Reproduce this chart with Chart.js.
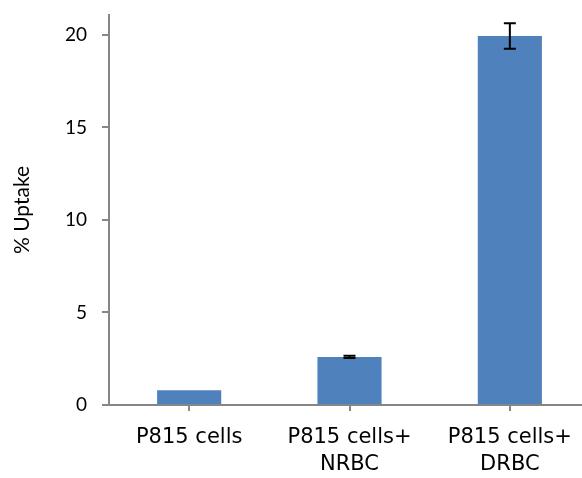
<!DOCTYPE html>
<html>
<head>
<meta charset="utf-8">
<script src="https://cdn.jsdelivr.net/npm/chart.js@4.4.0/dist/chart.umd.min.js"></script>
<style>
html,body{margin:0;padding:0;background:#fff;}
#wrap{width:582px;height:478px;position:relative;}
</style>
</head>
<body>
<div id="wrap"><canvas id="c" width="582" height="478"></canvas></div>
<script>
const categories = [["P815 cells"], ["P815 cells+", "NRBC"], ["P815 cells+", "DRBC"]];
const uptake = [0.8, 2.6, 19.95];
const uptakeError = [0, 0.06, 0.69];
const yTicks = [0, 5, 10, 15, 20];
const yTitle = "% Uptake";

const errorBars = {
  id: 'errorBars',
  afterDatasetsDraw(chart) {
    const ctx = chart.ctx, xs = chart.scales.x, ys = chart.scales.y;
    ctx.save();
    ctx.strokeStyle = '#000';
    ctx.lineWidth = 2;
    uptake.forEach((v, i) => {
      const e = uptakeError[i];
      if (!e) return;
      const x = xs.getPixelForValue(i);
      const yt = ys.getPixelForValue(v + e);
      const yb = ys.getPixelForValue(v - e);
      const hw = 6;
      ctx.beginPath();
      ctx.moveTo(x, yt); ctx.lineTo(x, yb);
      ctx.moveTo(x - hw, yt); ctx.lineTo(x + hw, yt);
      ctx.moveTo(x - hw, yb); ctx.lineTo(x + hw, yb);
      ctx.stroke();
    });
    ctx.restore();
  }
};

new Chart(document.getElementById('c'), {
  type: 'bar',
  data: {
    datasets: [{
      data: uptake.map((v, i) => ({x: i, y: v})),
      backgroundColor: '#4F81BD',
      borderWidth: 0,
      barPercentage: 0.4,
      categoryPercentage: 1
    }]
  },
  options: {
    responsive: false,
    animation: false,
    devicePixelRatio: 1,
    layout: {padding: {top: 15, right: 0, bottom: 0, left: 0}},
    plugins: {legend: {display: false}, tooltip: {enabled: false}},
    scales: {
      x: {
        type: 'linear',
        offset: false,
        min: -0.5,
        max: 2.45,
        afterBuildTicks(s) { s.ticks = categories.map((c, i) => ({value: i})); },
        afterFit(s) { s.height = 73; s.paddingLeft = 0; s.paddingRight = 0; },
        grid: {offset: false, drawOnChartArea: false, drawTicks: true, tickLength: 6, color: '#868686', lineWidth: 2},
        border: {color: '#868686', width: 2},
        ticks: {
          autoSkip: false,
          maxRotation: 0,
          padding: 14,
          color: '#000',
          font: {family: 'DejaVu Sans', size: 21, lineHeight: 1.24},
          callback(v) { return categories[v]; }
        }
      },
      y: {
        min: 0,
        max: 21.08,
        afterBuildTicks(s) { s.ticks = yTicks.map(v => ({value: v})); },
        afterFit(s) { s.width = 109; s.paddingTop = 0; s.paddingBottom = 0; },
        grid: {drawOnChartArea: false, drawTicks: true, tickLength: 7, color: '#868686', lineWidth: 2},
        border: {color: '#868686', width: 2},
        title: {display: true, text: yTitle, color: '#000', font: {family: 'Lato', size: 21}, padding: {top: 10, bottom: 0}},
        ticks: {
          padding: 15,
          color: '#000',
          font: {family: 'Lato', size: 19}
        }
      }
    }
  },
  plugins: [errorBars]
});
</script>
</body>
</html>
